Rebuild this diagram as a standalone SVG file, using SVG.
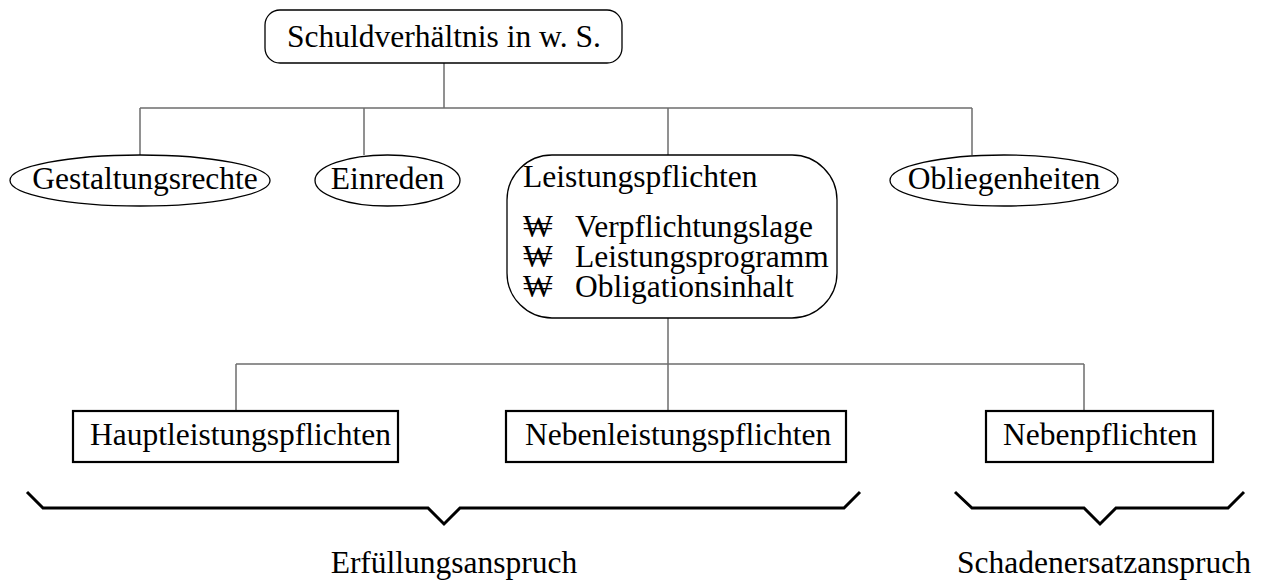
<svg xmlns="http://www.w3.org/2000/svg" width="1263" height="585" viewBox="0 0 1263 585">
  <style>
    text { font-family: "Liberation Serif", "Times New Roman", serif; font-size: 31.5px; fill: #000; }
    .node { fill: #fff; stroke: #000; stroke-width: 1.3; }
    .box { fill: #fff; stroke: #000; stroke-width: 2.2; }
    .conn { fill: none; stroke: #6e6e6e; stroke-width: 1.5; }
    .brace { fill: none; stroke: #000; stroke-width: 3; stroke-linejoin: miter; }
  </style>
  <rect width="1263" height="585" fill="#fff"/>

  <!-- connectors -->
  <g id="connectors">
    <path class="conn" d="M444 63 V108 M140 108 H972 M140 108 V155 M364 108 V155 M668 108 V155 M972 108 V155"/>
    <path class="conn" d="M668 318 V364 M236 364 H1084 M236 364 V411 M668 364 V411 M1084 364 V411"/>
  </g>

  <g id="schuldverhaeltnis">
    <rect class="node" x="265" y="10" width="357" height="53" rx="15" ry="15"/>
    <text x="444" y="47" text-anchor="middle">Schuldverhältnis in w. S.</text>
  </g>

  <g id="gestaltungsrechte">
    <ellipse class="node" cx="140" cy="180.5" rx="130" ry="25.5"/>
    <text x="145" y="189" text-anchor="middle">Gestaltungsrechte</text>
  </g>

  <g id="einreden">
    <ellipse class="node" cx="387.5" cy="180.5" rx="72.5" ry="25.5"/>
    <text x="387.5" y="189" text-anchor="middle">Einreden</text>
  </g>

  <g id="leistungspflichten">
    <rect class="node" x="507" y="155" width="330" height="163" rx="45" ry="45"/>
    <text x="523" y="187">Leistungspflichten</text>
    <text x="523" y="237">₩</text>
    <text x="575" y="237">Verpflichtungslage</text>
    <text x="523" y="267">₩</text>
    <text x="575" y="267">Leistungsprogramm</text>
    <text x="523" y="297">₩</text>
    <text x="575" y="297">Obligationsinhalt</text>
  </g>

  <g id="obliegenheiten">
    <ellipse class="node" cx="1004" cy="180.5" rx="114" ry="25.5"/>
    <text x="1004" y="189" text-anchor="middle">Obliegenheiten</text>
  </g>

  <g id="hauptleistungspflichten">
    <rect class="box" x="73" y="411" width="325" height="51"/>
    <text x="90" y="445">Hauptleistungspflichten</text>
  </g>

  <g id="nebenleistungspflichten">
    <rect class="box" x="506" y="411" width="340" height="51"/>
    <text x="525" y="445">Nebenleistungspflichten</text>
  </g>

  <g id="nebenpflichten">
    <rect class="box" x="986" y="411" width="227" height="51"/>
    <text x="1003" y="445">Nebenpflichten</text>
  </g>

  <!-- braces grouping the duties -->
  <g id="erfuellungsanspruch">
    <path class="brace" d="M27 492 L43 508 H428 L444 524 L460 508 H844 L860 492"/>
    <text x="454" y="573" text-anchor="middle">Erfüllungsanspruch</text>
  </g>

  <g id="schadenersatzanspruch">
    <path class="brace" d="M955 492 L972 508 H1084 L1100 524 L1116 508 H1228 L1244 492"/>
    <text x="1104" y="573" text-anchor="middle">Schadenersatzanspruch</text>
  </g>
</svg>
